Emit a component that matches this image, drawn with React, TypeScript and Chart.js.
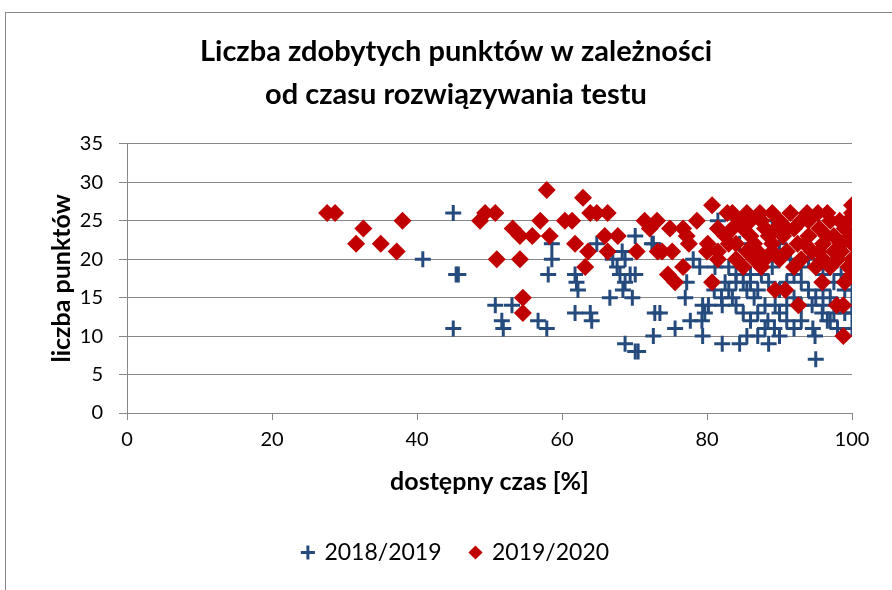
import React, { useEffect, useRef } from "react";
import { Chart, registerables } from "chart.js";
Chart.register(...registerables);

const TITLE = ["Liczba zdobytych punktów w zależności", "od czasu rozwiązywania testu"];
const X_TITLE = "dostępny czas [%]";
const Y_TITLE = "liczba punktów";
const SERIES = ["2018/2019", "2019/2020"];

const blueX = [45.0, 40.8, 45.4, 45.7, 45.0, 50.8, 51.7, 51.9, 53.1, 56.7,
  57.9, 58.6, 58.6, 58.1, 61.8, 62.0, 61.8, 62.2, 63.9, 64.1,
  64.8, 66.6, 68.3, 68.7, 67.0, 67.6, 68.0, 69.4, 70.1, 68.7,
  68.4, 69.7, 70.1, 68.7, 70.1, 70.5, 72.8, 72.6, 72.4, 73.5,
  75.6, 77.7, 78.1, 79.0, 81.1, 77.2, 77.0, 82.5, 79.4, 79.7,
  79.3, 82.1, 79.4, 82.1, 80.2, 83.0, 83.5, 83.0, 84.0, 85.0,
  86.0, 86.5, 85.5, 87.0, 87.5, 88.5, 89.0, 88.0, 89.4, 88.4,
  89.3, 91.0, 87.0, 88.5, 84.5, 85.5, 90.0, 91.0, 92.0, 93.0,
  94.0, 95.0, 96.0, 97.0, 94.5, 95.9, 97.5, 100, 100, 93.0,
  94.6, 96.6, 98.0, 100, 94.9, 95.0, 96.0, 97.5, 99.0, 100,
  98.5, 100, 91.5, 95.5, 99.0, 84.5, 81.5, 89.0, 81.0, 82.0,
  84.0, 85.0, 86.0, 87.0, 90.0, 91.0, 92.0, 93.0, 96.0, 97.0,
  98.0, 99.0, 92.0, 90.0, 88.0, 86.0, 84.0, 93.0, 97.0, 94.0,
  90.0, 72.6];
const blueY = [26, 20, 18, 18, 11, 14, 12, 11, 14, 12,
  11, 22, 20, 18, 18, 17, 13, 16, 13, 12,
  22, 15, 21, 20, 20, 19, 18, 18, 18, 17,
  16, 15, 23, 9, 8, 8, 13, 10, 22, 13,
  11, 12, 20, 19, 19, 17, 15, 17, 14, 13,
  12, 14, 10, 9, 14, 16, 15, 19, 18, 17,
  18, 15, 16, 16, 18, 17, 19, 14, 14, 12,
  11, 12, 10, 9, 9, 10, 16, 17, 18, 17,
  16, 15, 16, 15, 14, 13, 13, 14, 13, 12,
  11, 12, 11, 11, 10, 7, 18, 17, 16, 16,
  18, 19, 20, 21, 22, 22, 25, 25, 16, 15,
  14, 13, 12, 13, 13, 14, 15, 14, 14, 12,
  14, 13, 11, 10, 11, 17, 17, 19, 19, 20,
  22, 22];

const redX = [27.6, 28.7, 31.6, 32.6, 35.0, 37.2, 38.0, 48.7, 49.4, 50.8,
  51.0, 53.2, 54.2, 55.9, 57.0, 57.9, 58.3, 54.2, 54.6, 54.6,
  60.4, 61.4, 61.8, 62.9, 63.9, 64.8, 66.3, 63.6, 63.2, 65.9,
  67.7, 66.3, 70.3, 71.4, 72.1, 73.2, 73.1, 74.9, 76.7, 78.6,
  77.2, 73.8, 75.2, 76.7, 74.6, 75.6, 80.7, 80.7, 81.5, 82.8,
  80.1, 81.5, 80.0, 77.5, 83.5, 84.5, 85.0, 86.0, 86.5, 87.3,
  87.5, 88.0, 88.5, 84.0, 85.5, 87.0, 88.0, 89.0, 89.5, 90.0,
  90.5, 91.0, 91.5, 92.0, 92.5, 93.0, 93.8, 94.0, 94.5, 95.3,
  95.5, 96.0, 96.6, 97.0, 97.5, 98.3, 98.5, 99.0, 99.7, 100,
  100, 100, 100, 100, 99.5, 98.0, 97.0, 96.0, 95.0, 93.0,
  92.0, 90.0, 89.4, 90.8, 92.6, 95.9, 97.9, 98.8, 98.8, 86.5,
  85.0, 84.0, 83.0, 82.5, 83.5, 86.0, 89.0, 91.0, 94.0, 96.5,
  98.5, 99.5, 87.5, 89.0, 93.5, 95.5, 97.5, 99.0, 81.5, 85.5];
const redY = [26, 26, 22, 24, 22, 21, 25, 25, 26, 26,
  20, 24, 23, 23, 25, 29, 23, 20, 15, 13,
  25, 25, 22, 28, 26, 26, 26, 21, 19, 23,
  23, 21, 21, 25, 24, 21, 25, 24, 24, 25,
  23, 21, 21, 19, 18, 17, 17, 27, 24, 26,
  22, 21, 21, 22, 26, 25, 24, 23, 22, 26,
  25, 24, 23, 22, 21, 21, 20, 22, 24, 25,
  23, 21, 26, 24, 22, 25, 26, 23, 21, 26,
  24, 22, 26, 25, 23, 25, 21, 24, 23, 27,
  26, 22, 20, 18, 19, 20, 19, 20, 19, 20,
  19, 20, 16, 16, 14, 17, 14, 14, 10, 20,
  19, 20, 22, 23, 24, 25, 26, 24, 25, 23,
  22, 25, 19, 21, 22, 21, 21, 17, 20, 26];

const FONT = "Lato, 'Open Sans', 'DejaVu Sans', sans-serif";
const BLUE = "#254A7D";
const RED = "#C00000";
const GRID = "#878787";

export default function App() {
  const ref = useRef<HTMLCanvasElement>(null);
  useEffect(() => {
    if (!ref.current) return;
    Chart.defaults.font.family = FONT;
    const chart = new Chart(ref.current, {
      type: "scatter",
      data: {
        datasets: [
          {
            label: SERIES[0],
            data: blueX.map((x, i) => ({ x, y: blueY[i] })),
            pointStyle: "cross",
            pointRadius: 8,
            pointBorderWidth: 3,
            borderColor: BLUE,
            backgroundColor: BLUE,
            order: 1,
          },
          {
            label: SERIES[1],
            data: redX.map((x, i) => ({ x, y: redY[i] })),
            pointStyle: "rectRot",
            pointRadius: 9,
            pointBorderWidth: 0,
            borderColor: RED,
            backgroundColor: RED,
            order: 0,
          },
        ],
      },
      options: {
        animation: false,
        responsive: false,
        devicePixelRatio: 1,
        layout: { padding: { left: 20, right: 0, top: 0, bottom: 16 } },
        plugins: {
          title: {
            display: true,
            text: TITLE,
            color: "#000",
            font: { family: FONT, size: 29, weight: "bold", lineHeight: 1.48 },
            padding: { top: 30, bottom: 28 },
          },
          legend: {
            position: "bottom",
            labels: {
              usePointStyle: true,
              boxWidth: 10,
              boxHeight: 10,
              color: "#000",
              font: { family: FONT, size: 23 },
              padding: 29,
              sort: (a: any, b: any) => a.datasetIndex - b.datasetIndex,
            },
          },
          tooltip: { enabled: false },
        },
        scales: {
          x: {
            type: "linear",
            min: 0,
            max: 100,
            ticks: { stepSize: 20, color: "#000", font: { family: FONT, size: 20 }, padding: 8 },
            grid: { drawOnChartArea: false, drawTicks: true, tickLength: 7, color: GRID },
            border: { color: GRID },
            title: {
              display: true,
              text: X_TITLE,
              color: "#000",
              font: { family: FONT, size: 25, weight: "bold" },
              padding: { top: 0, bottom: 15 },
            },
            afterFit: (s: any) => { s.height = 99; },
          },
          y: {
            type: "linear",
            min: 0,
            max: 35,
            ticks: { stepSize: 5, color: "#000", font: { family: FONT, size: 20 }, padding: 16 },
            grid: { drawTicks: true, tickLength: 8, color: GRID },
            border: { color: GRID },
            title: {
              display: true,
              text: Y_TITLE,
              color: "#000",
              font: { family: FONT, size: 25, weight: "bold" },
              padding: { top: 27, bottom: 0 },
            },
            afterFit: (s: any) => { s.width = 107; },
          },
          spacer: {
            type: "linear",
            position: "right",
            display: true,
            grid: { display: false, drawTicks: false },
            border: { display: false },
            ticks: { display: false },
            afterFit: (s: any) => { s.width = 40; },
          },
        },
      },
    });
    return () => chart.destroy();
  }, []);

  return (
    <div style={{ position: "fixed", left: 0, top: 0, width: 892, height: 590, overflow: "hidden", background: "#fff" }}>
      <div style={{ position: "absolute", left: 5, top: 12, width: 1000, height: 1000, border: "1px solid #888" }} />
      <canvas ref={ref} width={892} height={590} style={{ position: "absolute", left: 0, top: 0, width: 892, height: 590 }} />
    </div>
  );
}
